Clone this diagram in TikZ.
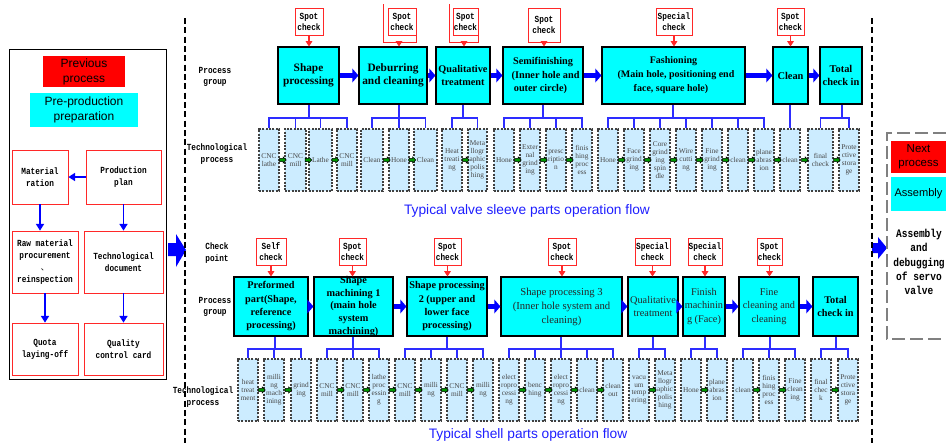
\documentclass[tikz,border=0pt]{standalone}
\usepackage{fontspec}
\setmainfont{Liberation Serif}
\setsansfont{Liberation Sans}
\newfontfamily\monof{Liberation Mono}[FakeStretch=0.83]
\newfontfamily\cjkf{Noto Sans CJK SC}
\usetikzlibrary{arrows.meta,fit,shapes.arrows}

\definecolor{procfill}{RGB}{0,255,255}
\definecolor{techfill}{RGB}{204,236,255}
\definecolor{busblue}{RGB}{45,45,255}
\definecolor{flowblue}{RGB}{0,0,255}
\definecolor{arrgreen}{RGB}{0,150,0}
\definecolor{chkred}{RGB}{255,40,40}
\definecolor{capblue}{RGB}{30,30,255}

\tikzset{
  txt/.style={align=center, inner sep=0pt},
  pbox/.style={draw=black, fill=procfill, line width=0.8pt, inner sep=0pt},
  tbox/.style={draw=black!75, fill=techfill, dash pattern=on 1.6pt off 0.9pt,
    line width=0.8pt, inner sep=0pt},
  ttext/.style={txt, text=black!72, font=\fontsize{5.5}{5.9}\selectfont},
  chk/.style={draw=chkred, fill=white, line width=0.7pt, inner sep=0pt},
  chktext/.style={txt, font=\monof\bfseries\fontsize{7}{8.2}\selectfont},
  chkarrow/.style={draw=chkred, line width=0.8pt, -{Triangle[length=4pt,width=5pt]}},
  bus/.style={draw=busblue, line width=0.9pt},
  flow/.style={draw=flowblue, line width=3.6pt, -{Triangle[length=4.5pt,width=10pt]}},
  garr/.style={single arrow, draw=black, fill=arrgreen, line width=0.35pt,
    minimum height=5pt, minimum width=4.6pt, single arrow head extend=1.1pt,
    inner sep=1.1pt},
  rowlabel/.style={txt, font=\monof\bfseries\fontsize{7}{8.7}\selectfont},
  lbox/.style={draw=chkred, fill=white, line width=0.6pt, inner sep=0pt},
  ltext/.style={txt, font=\monof\bfseries\fontsize{7}{8.8}\selectfont},
  larrow/.style={draw=flowblue, line width=1.1pt, -{Triangle[length=5pt,width=6pt]}},
  sidebox/.style={inner sep=0pt, draw=none},
  sidetext/.style={txt, font=\sffamily\fontsize{9}{11.2}\selectfont},
  caption/.style={text=capblue, font=\sffamily\fontsize{10.3}{12}\selectfont, inner sep=0pt},
  vdash/.style={draw=black, line width=0.8pt, dash pattern=on 4.5pt off 2.5pt},
  blockarrow/.style={fill=flowblue, draw=none},
}

% a box spanning two corners, with its text centred in a second node
\newcommand\labelledbox[5]{%
  \node[#2, fit={#4}] (#1) {};
  \node[#3] (#1t) at (#1.center) {#5};}

\begin{document}
\begin{tikzpicture}[x=0.75pt, y=-0.75pt]
\useasboundingbox (0,0) rectangle (946,443);

% ---------------- left panel: pre-production preparation ----------------
\draw[black, line width=0.75pt] (9,49) rectangle (166,379);
\labelledbox{prev}{sidebox, fill=red}{sidetext}{(43,56) (125,87)}{Previous\\process}
\labelledbox{prep}{sidebox, fill=procfill}{sidetext}{(30,93) (138,127)}{Pre-production\\preparation}
\labelledbox{L1}{lbox}{ltext}{(12,150) (68,204)}{Material\\ration}
\labelledbox{L2}{lbox}{ltext}{(86,150) (161,204)}{Production\\plan}
\labelledbox{L3}{lbox}{ltext}{(12,231) (78,293)}{Raw material\\procurement\\{\cjkf\mdseries\fontsize{6}{6}\selectfont 、}\\reinspection}
\labelledbox{L4}{lbox}{ltext}{(84,231) (163,293)}{Technological\\document}
\labelledbox{L5}{lbox}{ltext}{(12,323) (78,375)}{Quota\\laying-off}
\labelledbox{L6}{lbox}{ltext}{(84,323) (163,375)}{Quality\\control card}
\draw[larrow] (L2.west) -- (L1.east);
\draw[larrow] (L1.south) -- (L1.south |- L3.north);
\draw[larrow] (L2.south) -- (L2.south |- L4.north);
\draw[larrow] (L3.south) -- (L3.south |- L5.north);
\draw[larrow] (L4.south) -- (L4.south |- L6.north);

% block arrows into and out of the main area
\fill[blockarrow] (168,243) -- (176,243) -- (176,234) -- (186,250) -- (176,267) -- (176,256) -- (168,256) -- cycle;
\fill[blockarrow] (872,243) -- (878,243) -- (878,237) -- (887,248) -- (878,259) -- (878,253) -- (872,253) -- cycle;

% separators
\draw[vdash] (185,18) -- (185,443);
\draw[vdash] (872,18) -- (872,443);

% ---------------- valve sleeve flow ----------------
\node[rowlabel] (lgA) at (215,77) {Process\\group};
\node[rowlabel] (ltA) at (217,154) {Technological\\process};

% process groups
\labelledbox{P1}{pbox}{txt, font=\bfseries\fontsize{8.5}{9.6}\selectfont}{(278,47) (339,104)}{Shape\\processing}
\labelledbox{P2}{pbox}{txt, font=\bfseries\fontsize{8.5}{9.6}\selectfont}{(359,47) (427,104)}{Deburring\\and cleaning}
\labelledbox{P3}{pbox}{txt, font=\bfseries\fontsize{7.7}{9.2}\selectfont}{(436,47) (490,104)}{Qualitative\\treatment}
\labelledbox{P4}{pbox}{txt, font=\bfseries\fontsize{7.7}{10}\selectfont}{(503,47) (583,104)}{Semifinishing\\\hspace*{0.5em}(Inner hole and\\outer circle)\hspace*{0.5em}}
\labelledbox{P5}{pbox}{txt, font=\bfseries\fontsize{7.5}{10.5}\selectfont}{(602,47) (745,104)}{Fashioning\\\hspace*{0.5em}(Main hole, positioning end\\face, square hole)\hspace*{0.5em}}
\labelledbox{P6}{pbox}{txt, font=\bfseries\fontsize{7.8}{9.5}\selectfont}{(773,47) (808,104)}{Clean}
\labelledbox{P7}{pbox}{txt, font=\bfseries\fontsize{7.8}{9.5}\selectfont}{(820,47) (862,104)}{Total\\check in}

\foreach \u/\v in {P1/P2, P2/P3, P3/P4, P4/P5, P5/P6, P6/P7}
  \draw[flow] (\u.east) -- (\v.west);

% inspections
\labelledbox{c1}{chk}{chktext}{(295,8) (323,35)}{Spot\\check}
\labelledbox{c2}{chk}{chktext}{(388,8) (416,35)}{Spot\\check}
\labelledbox{c3}{chk}{chktext}{(453,8) (478,35)}{Spot\\check}
\labelledbox{c4}{chk}{chktext}{(528,8) (560,42)}{Spot\\check}
\labelledbox{c5}{chk}{chktext}{(656,8) (692,35)}{Special\\check}
\labelledbox{c6}{chk}{chktext}{(777,8) (804,35)}{Spot\\check}
\draw[chkred, line width=0.7pt] (383,4) -- (383,42) -- (416,42) -- (416,35);
\draw[chkred, line width=0.7pt] (449,4) -- (449,42) -- (478,42) -- (478,35);
\coordinate (c2o) at (399,42);
\coordinate (c3o) at (464,42);
\draw[chkarrow] (c1.south) -- (c1.south |- P1.north);
\draw[chkarrow] (c2o) -- (c2o |- P2.north);
\draw[chkarrow] (c3o) -- (c3o |- P3.north);
\draw[chkarrow] (c4.south) -- (c4.south |- P4.north);
\draw[chkarrow] (c5.south) -- (c5.south |- P5.north);
\draw[chkarrow] (c6.south) -- (c6.south |- P6.north);

% technological steps
\foreach \n/\a/\b/\t in {
  a1/259/279/{CNC\\lathe}, a2/285/306/{CNC\\mill}, a3/309/332/{Lathe},
  a4/337/357/{CNC\\mill}, a5/361/383/{Clean}, a6/389/409/{Hone},
  a7/414/437/{Clean}, a8/442/462/{Heat\\treati\\ng},
  a9/468/487/{Meta\\llogr\\aphic\\polis\\hing}, a10/494/514/{Hone},
  a11/520/540/{Exter\\nal\\grind\\ing}, a12/546/566/{presc\\riptio\\n},
  a13/572/592/{finis\\hing\\proc\\ess}, a14/598/618/{Hone},
  a15/624/644/{Face\\grind\\ing}, a16/650/670/{Core\\grind\\ing\\spin\\dle},
  a17/676/696/{Wire\\cutti\\ng}, a18/702/722/{Fine\\grind\\ing},
  a19/728/748/{clean}, a20/754/774/{plane\\abras\\ion}, a21/780/800/{clean},
  a22/808/833/{final\\check}, a23/839/859/{Prote\\ctive\\stora\\ge}}
  {\labelledbox{\n}{tbox}{ttext}{(\a,129) (\b,191)}{\t}}

\foreach \u/\v [count=\k] in {a1/a2, a2/a3, a3/a4, a5/a6, a6/a7, a8/a9,
  a10/a11, a11/a12, a12/a13, a14/a15, a15/a16, a16/a17, a17/a18, a18/a19,
  a19/a20, a20/a21, a21/a22, a22/a23}
  \path (\u.east) -- (\v.west) node[garr, midway] (ga\k) {};

% distribution lines
\coordinate (bA) at (309,118);
\draw[bus] (P1.south -| bA) -- (bA);
\draw[bus] (a1.north) |- (bA) -| (a4.north);
\foreach \m in {a2,a3} \draw[bus] (\m.north) -- (\m.north |- bA);
\coordinate (bB) at (399,118);
\draw[bus] (P2.south -| bB) -- (bB);
\draw[bus] (a5.north) |- (bB) -| (a7.north);
\draw[bus] (a6.north) -- (a6.north |- bB);
\coordinate (bC) at (463,118);
\draw[bus] (P3.south -| bC) -- (bC);
\draw[bus] (a8.north) |- (bC) -| (a9.north);
\coordinate (bD) at (543,118);
\draw[bus] (P4.south -| bD) -- (bD);
\draw[bus] (a10.north) |- (bD) -| (a13.north);
\foreach \m in {a11,a12} \draw[bus] (\m.north) -- (\m.north |- bD);
\coordinate (bE) at (673,118);
\draw[bus] (P5.south -| bE) -- (bE);
\draw[bus] (a14.north) |- (bE) -| (a20.north);
\foreach \m in {a15,a16,a17,a18,a19} \draw[bus] (\m.north) -- (\m.north |- bE);
\draw[bus] (P6.south -| a21.north) -- (a21.north);
\coordinate (bG) at (842,118);
\draw[bus] (P7.south -| bG) -- (bG);
\draw[bus] (a22.north) |- (bG) -| (a23.north);

\node[caption] (capA) at (527,211) {Typical valve sleeve parts operation flow};

% ---------------- shell flow ----------------
\node[rowlabel] (lcB) at (217,253) {Check\\point};
\node[rowlabel] (lgB) at (215,307) {Process\\group};
\node[rowlabel] (ltB) at (203,397) {Technological\\process};

\labelledbox{Q1}{pbox}{txt, font=\bfseries\fontsize{7.7}{10}\selectfont}{(234,277) (308,336)}{Preformed\\part(Shape,\\reference\\processing)}
\labelledbox{Q2}{pbox}{txt, font=\bfseries\fontsize{7.7}{9.4}\selectfont}{(314,277) (393,336)}{Shape\\machining 1\\(main hole\\system\\machining)}
\labelledbox{Q3}{pbox}{txt, font=\bfseries\fontsize{7.7}{10}\selectfont}{(407,277) (487,336)}{Shape processing\\2 (upper and\\lower face\\processing)}
\labelledbox{Q4}{pbox}{txt, text=black!85, font=\fontsize{8}{10.5}\selectfont}{(501,277) (622,336)}{Shape processing 3\\(Inner hole system and\\cleaning)}
\labelledbox{Q5}{pbox}{txt, text=black!85, font=\fontsize{7.7}{10}\selectfont}{(628,277) (678,336)}{Qualitative\\treatment}
\labelledbox{Q6}{pbox}{txt, text=black!85, font=\fontsize{7.7}{10}\selectfont}{(683,277) (725,336)}{Finish\\machinin\\g (Face)}
\labelledbox{Q7}{pbox}{txt, text=black!85, font=\fontsize{7.7}{10}\selectfont}{(739,277) (799,336)}{Fine\\cleaning and\\cleaning}
\labelledbox{Q8}{pbox}{txt, font=\bfseries\fontsize{7.7}{9.5}\selectfont}{(813,277) (858,336)}{Total\\check in}

\foreach \u/\v in {Q1/Q2, Q2/Q3, Q3/Q4, Q4/Q5, Q5/Q6, Q6/Q7, Q7/Q8}
  \draw[flow] (\u.east) -- (\v.west);

\labelledbox{d1}{chk}{chktext}{(256,238) (286,265)}{Self\\check}
\labelledbox{d2}{chk}{chktext}{(339,238) (366,265)}{Spot\\check}
\labelledbox{d3}{chk}{chktext}{(434,238) (461,265)}{Spot\\check}
\labelledbox{d4}{chk}{chktext}{(548,238) (576,265)}{Spot\\check}
\labelledbox{d5}{chk}{chktext}{(635,238) (670,265)}{Special\\check}
\labelledbox{d6}{chk}{chktext}{(688,238) (722,265)}{Special\\check}
\labelledbox{d7}{chk}{chktext}{(757,238) (782,265)}{Spot\\check}
\foreach \c/\p in {d1/Q1, d2/Q2, d3/Q3, d4/Q4, d5/Q5, d6/Q6, d7/Q7}
  \draw[chkarrow] (\c.south) -- (\c.south |- \p.north);

\foreach \n/\a/\b/\t in {
  b1/238/258/{heat\\treat\\ment}, b2/264/284/{milli\\ng\\mach\\ining},
  b3/291/311/{grind\\ing}, b4/317/337/{CNC\\mill}, b5/343/363/{CNC\\mill},
  b6/369/389/{lathe\\proc\\essin\\g}, b7/395/415/{CNC\\mill},
  b8/421/441/{milli\\ng}, b9/447/467/{CNC\\mill}, b10/473/493/{milli\\ng},
  b11/499/519/{elect\\ropro\\cessi\\ng}, b12/525/545/{benc\\hing},
  b13/551/571/{elect\\ropro\\cessi\\ng}, b14/577/597/{clean},
  b15/603/623/{clean\\out}, b16/629/649/{vacu\\um\\temp\\ering},
  b17/655/675/{Meta\\llogr\\aphic\\polis\\hing}, b18/681/701/{Hone},
  b19/707/727/{plane\\abras\\ion}, b20/733/753/{clean},
  b21/759/779/{finis\\hing\\proc\\ess}, b22/785/805/{Fine\\clean\\ing},
  b23/811/831/{final\\chec\\k}, b24/838/858/{Prote\\ctive\\stora\\ge}}
  {\labelledbox{\n}{tbox}{ttext}{(\a,359) (\b,421)}{\t}}

\foreach \u/\v [count=\k] in {b1/b2, b2/b3, b4/b5, b5/b6, b6/b7, b7/b8,
  b8/b9, b9/b10, b11/b12, b12/b13, b13/b14, b14/b15, b16/b17, b18/b19,
  b20/b21, b21/b22, b23/b24}
  \path (\u.east) -- (\v.west) node[garr, midway] (gb\k) {};

\coordinate (eA) at (275,349);
\draw[bus] (Q1.south -| eA) -- (eA);
\draw[bus] (b1.north) |- (eA) -| (b3.north);
\draw[bus] (b2.north) -- (b2.north |- eA);
\coordinate (eB) at (353,349);
\draw[bus] (Q2.south -| eB) -- (eB);
\draw[bus] (b4.north) |- (eB) -| (b6.north);
\draw[bus] (b5.north) -- (b5.north |- eB);
\coordinate (eC) at (447,349);
\draw[bus] (Q3.south -| eC) -- (eC);
\draw[bus] (b7.north) |- (eC) -| (b10.north);
\foreach \m in {b8,b9} \draw[bus] (\m.north) -- (\m.north |- eC);
\coordinate (eD) at (561,349);
\draw[bus] (Q4.south -| eD) -- (eD);
\draw[bus] (b11.north) |- (eD) -| (b15.north);
\foreach \m in {b12,b13,b14} \draw[bus] (\m.north) -- (\m.north |- eD);
\coordinate (eE) at (653,349);
\draw[bus] (Q5.south -| eE) -- (eE);
\draw[bus] (b16.north) |- (eE) -| (b17.north);
\coordinate (eF) at (705,349);
\draw[bus] (Q6.south -| eF) -- (eF);
\draw[bus] (b18.north) |- (eF) -| (b19.north);
\coordinate (eG) at (770,349);
\draw[bus] (Q7.south -| eG) -- (eG);
\draw[bus] (b20.north) |- (eG) -| (b22.north);
\draw[bus] (b21.north) -- (b21.north |- eG);
\coordinate (eH) at (836,349);
\draw[bus] (Q8.south -| eH) -- (eH);
\draw[bus] (b23.north) |- (eH) -| (b24.north);

\node[caption] (capB) at (528,435) {Typical shell parts operation flow};

% ---------------- right panel: next process ----------------
\draw[black!50, line width=1.5pt, dash pattern=on 9.75pt off 3.75pt]
  (946,133) -- (887,133) -- (887,339) -- (946,339);
\labelledbox{nextp}{sidebox, fill=red}{txt, font=\sffamily\fontsize{8.6}{10.5}\selectfont}{(891,141) (946,173)}{Next\\process}
\labelledbox{assem}{sidebox, fill=procfill}{txt, font=\sffamily\fontsize{8.3}{10}\selectfont}{(891,177) (946,211)}{Assembly}
\node[rowlabel, font=\monof\bfseries\fontsize{8.6}{10.7}\selectfont] (asmtxt) at (919,262) {Assembly\\and\\debugging\\of servo\\valve};

\end{tikzpicture}
\end{document}
